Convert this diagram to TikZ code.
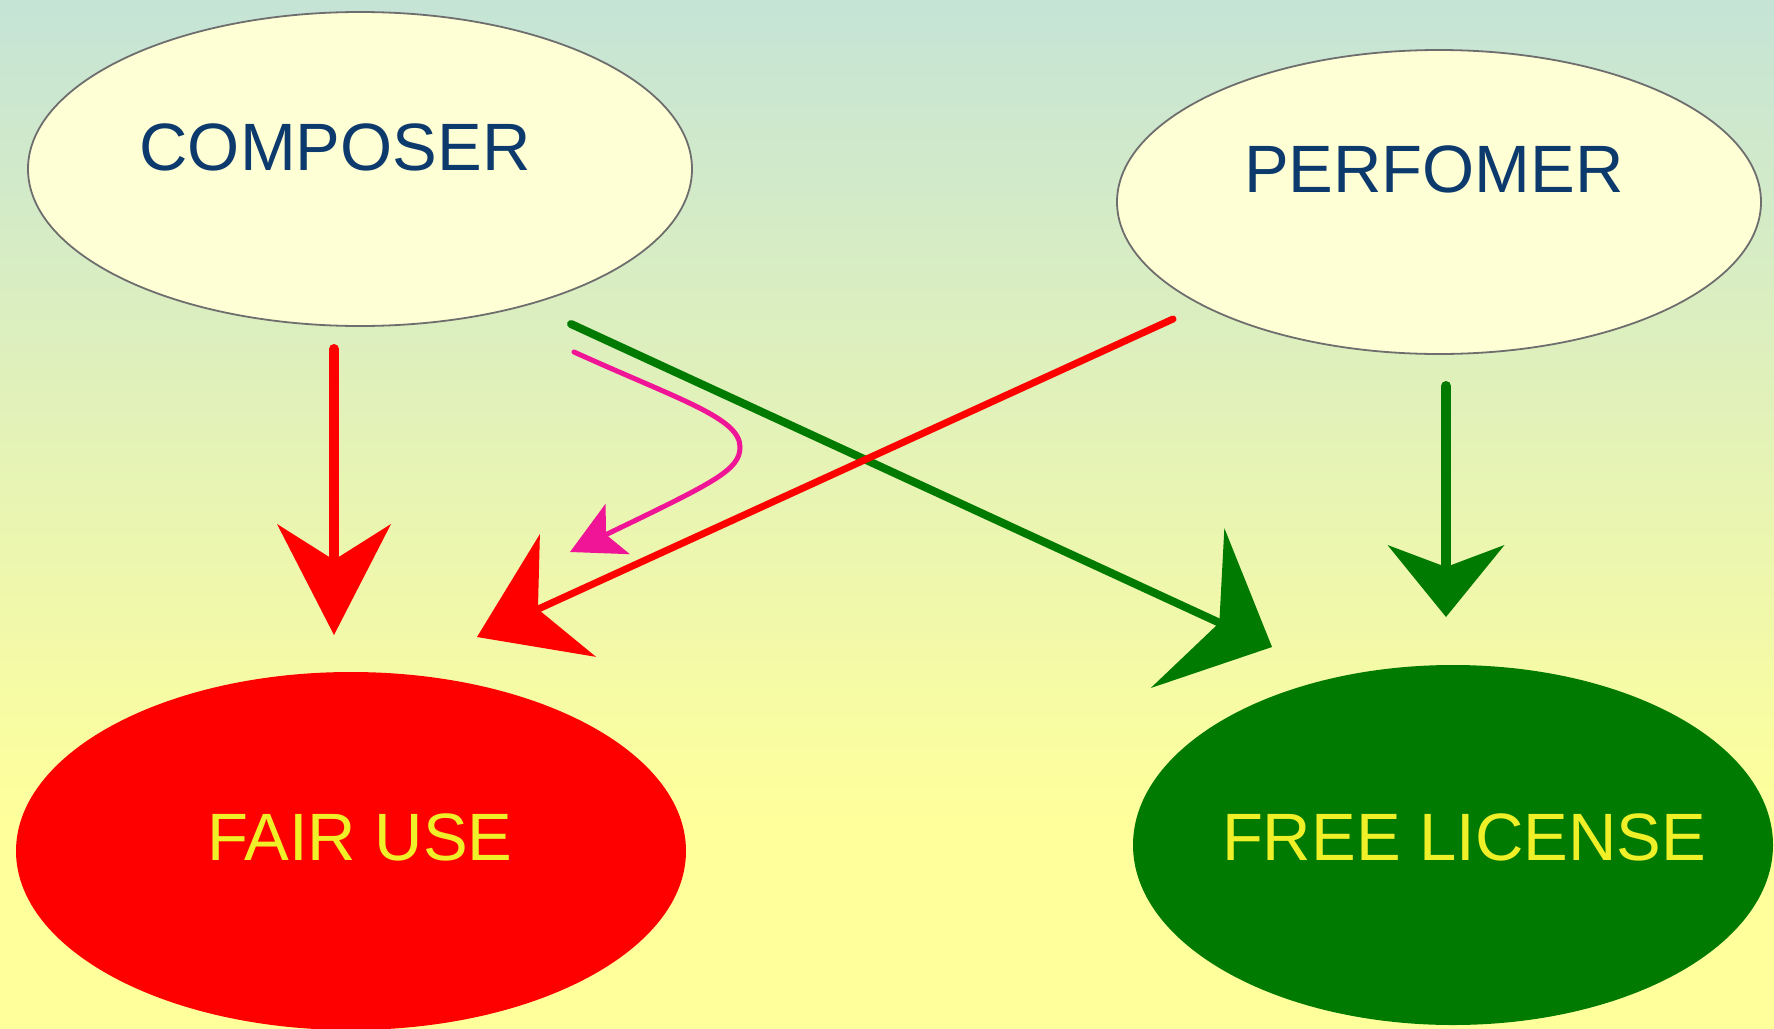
\documentclass[tikz,border=0pt]{standalone}
\usepackage{fontspec}
\setmainfont{Liberation Sans}
\usetikzlibrary{arrows.meta,shapes.geometric}
\definecolor{bgtop}{RGB}{197,228,214}
\definecolor{bgbot}{RGB}{255,255,155}
\definecolor{cream}{RGB}{255,255,213}
\definecolor{ringgray}{RGB}{110,110,110}
\definecolor{txtblue}{RGB}{12,58,108}
\definecolor{txtyellow}{RGB}{240,240,40}
\definecolor{fairred}{RGB}{255,0,0}
\definecolor{freegreen}{RGB}{0,122,0}
\definecolor{pinkarrow}{RGB}{240,20,150}
\pgfdeclareverticalshading{bgshade}{100bp}{color(0bp)=(bgbot); color(35bp)=(bgbot); color(75bp)=(bgtop); color(100bp)=(bgtop)}
\begin{document}
\begin{tikzpicture}[x=1pt,y=-1pt,
  roleell/.style={ellipse, draw=ringgray, line width=1.8pt, fill=cream, inner sep=0pt},
  goalell/.style={ellipse, draw=none, inner sep=0pt},
  roletext/.style={text=txtblue, inner sep=0pt, anchor=base, font=\fontsize{67}{67}\selectfont},
  goaltext/.style={text=txtyellow, inner sep=0pt, anchor=base, font=\fontsize{67}{67}\selectfont},
  shaft/.style={line width=#1, line cap=round},
]
\useasboundingbox (0,0) rectangle (1774,1028);
\shade[shading=bgshade] (0,0) rectangle (1774,1028);

% nodes
\node[roleell, minimum width=664pt, minimum height=314pt] (composer) at (360,169) {};
\node[roleell, minimum width=644pt, minimum height=304pt] (performer) at (1439,202) {};
\node[goalell, fill=fairred, minimum width=670pt, minimum height=358pt] (fairuse) at (351,851) {};
\node[goalell, fill=freegreen, minimum width=640pt, minimum height=360pt] (freelicense) at (1453,845) {};

\node[roletext] (composer-label) at (335,170) {COMPOSER};
\node[roletext] (performer-label) at (1434,192) {PERFOMER};
\node[goaltext] (fairuse-label) at (360,860) {FAIR USE};
\node[goaltext] (freelicense-label) at (1464,860) {FREE LICENSE};

% connector end points
\coordinate (cd-s) at (334,349);
\coordinate (cd-t) at (334,635);
\coordinate (pd-s) at (1446,386);
\coordinate (pd-t) at (1446,617);
\coordinate (cx-s) at (571,324);
\coordinate (cx-t) at (1272,647);
\coordinate (px-s) at (1173,319);
\coordinate (px-t) at (477,637);
\coordinate (pk-s) at (574,352);
\coordinate (pk-m) at (740,447);
\coordinate (pk-t) at (570,552);

% composer -> fair use
\draw[fairred, shaft=10pt, -{Stealth[length=111pt,width=114pt,inset=36pt,line width=0pt]}] (cd-s) -- (cd-t);
% performer -> free license
\draw[freegreen, shaft=10pt, -{Stealth[length=72pt,width=117pt,inset=22pt,line width=0pt]}] (pd-s) -- (pd-t);
% composer -> free license
\draw[freegreen, shaft=8pt, -{Stealth[length=93pt,width=176pt,inset=35pt,line width=0pt]}] (cx-s) -- (cx-t);
% performer -> fair use
\draw[fairred, shaft=7pt, -{Stealth[length=100pt,width=135pt,inset=33pt,line width=0pt]}] (px-s) -- (px-t);
% composer -> fair use (curved)
\draw[pinkarrow, shaft=5pt, -{Stealth[length=53pt,width=56pt,inset=13pt,line width=0pt]}]
  (pk-s) .. controls (680,400) and (740,418) .. (pk-m)
  .. controls (740,470) and (715,482) .. (pk-t);
\end{tikzpicture}
\end{document}
